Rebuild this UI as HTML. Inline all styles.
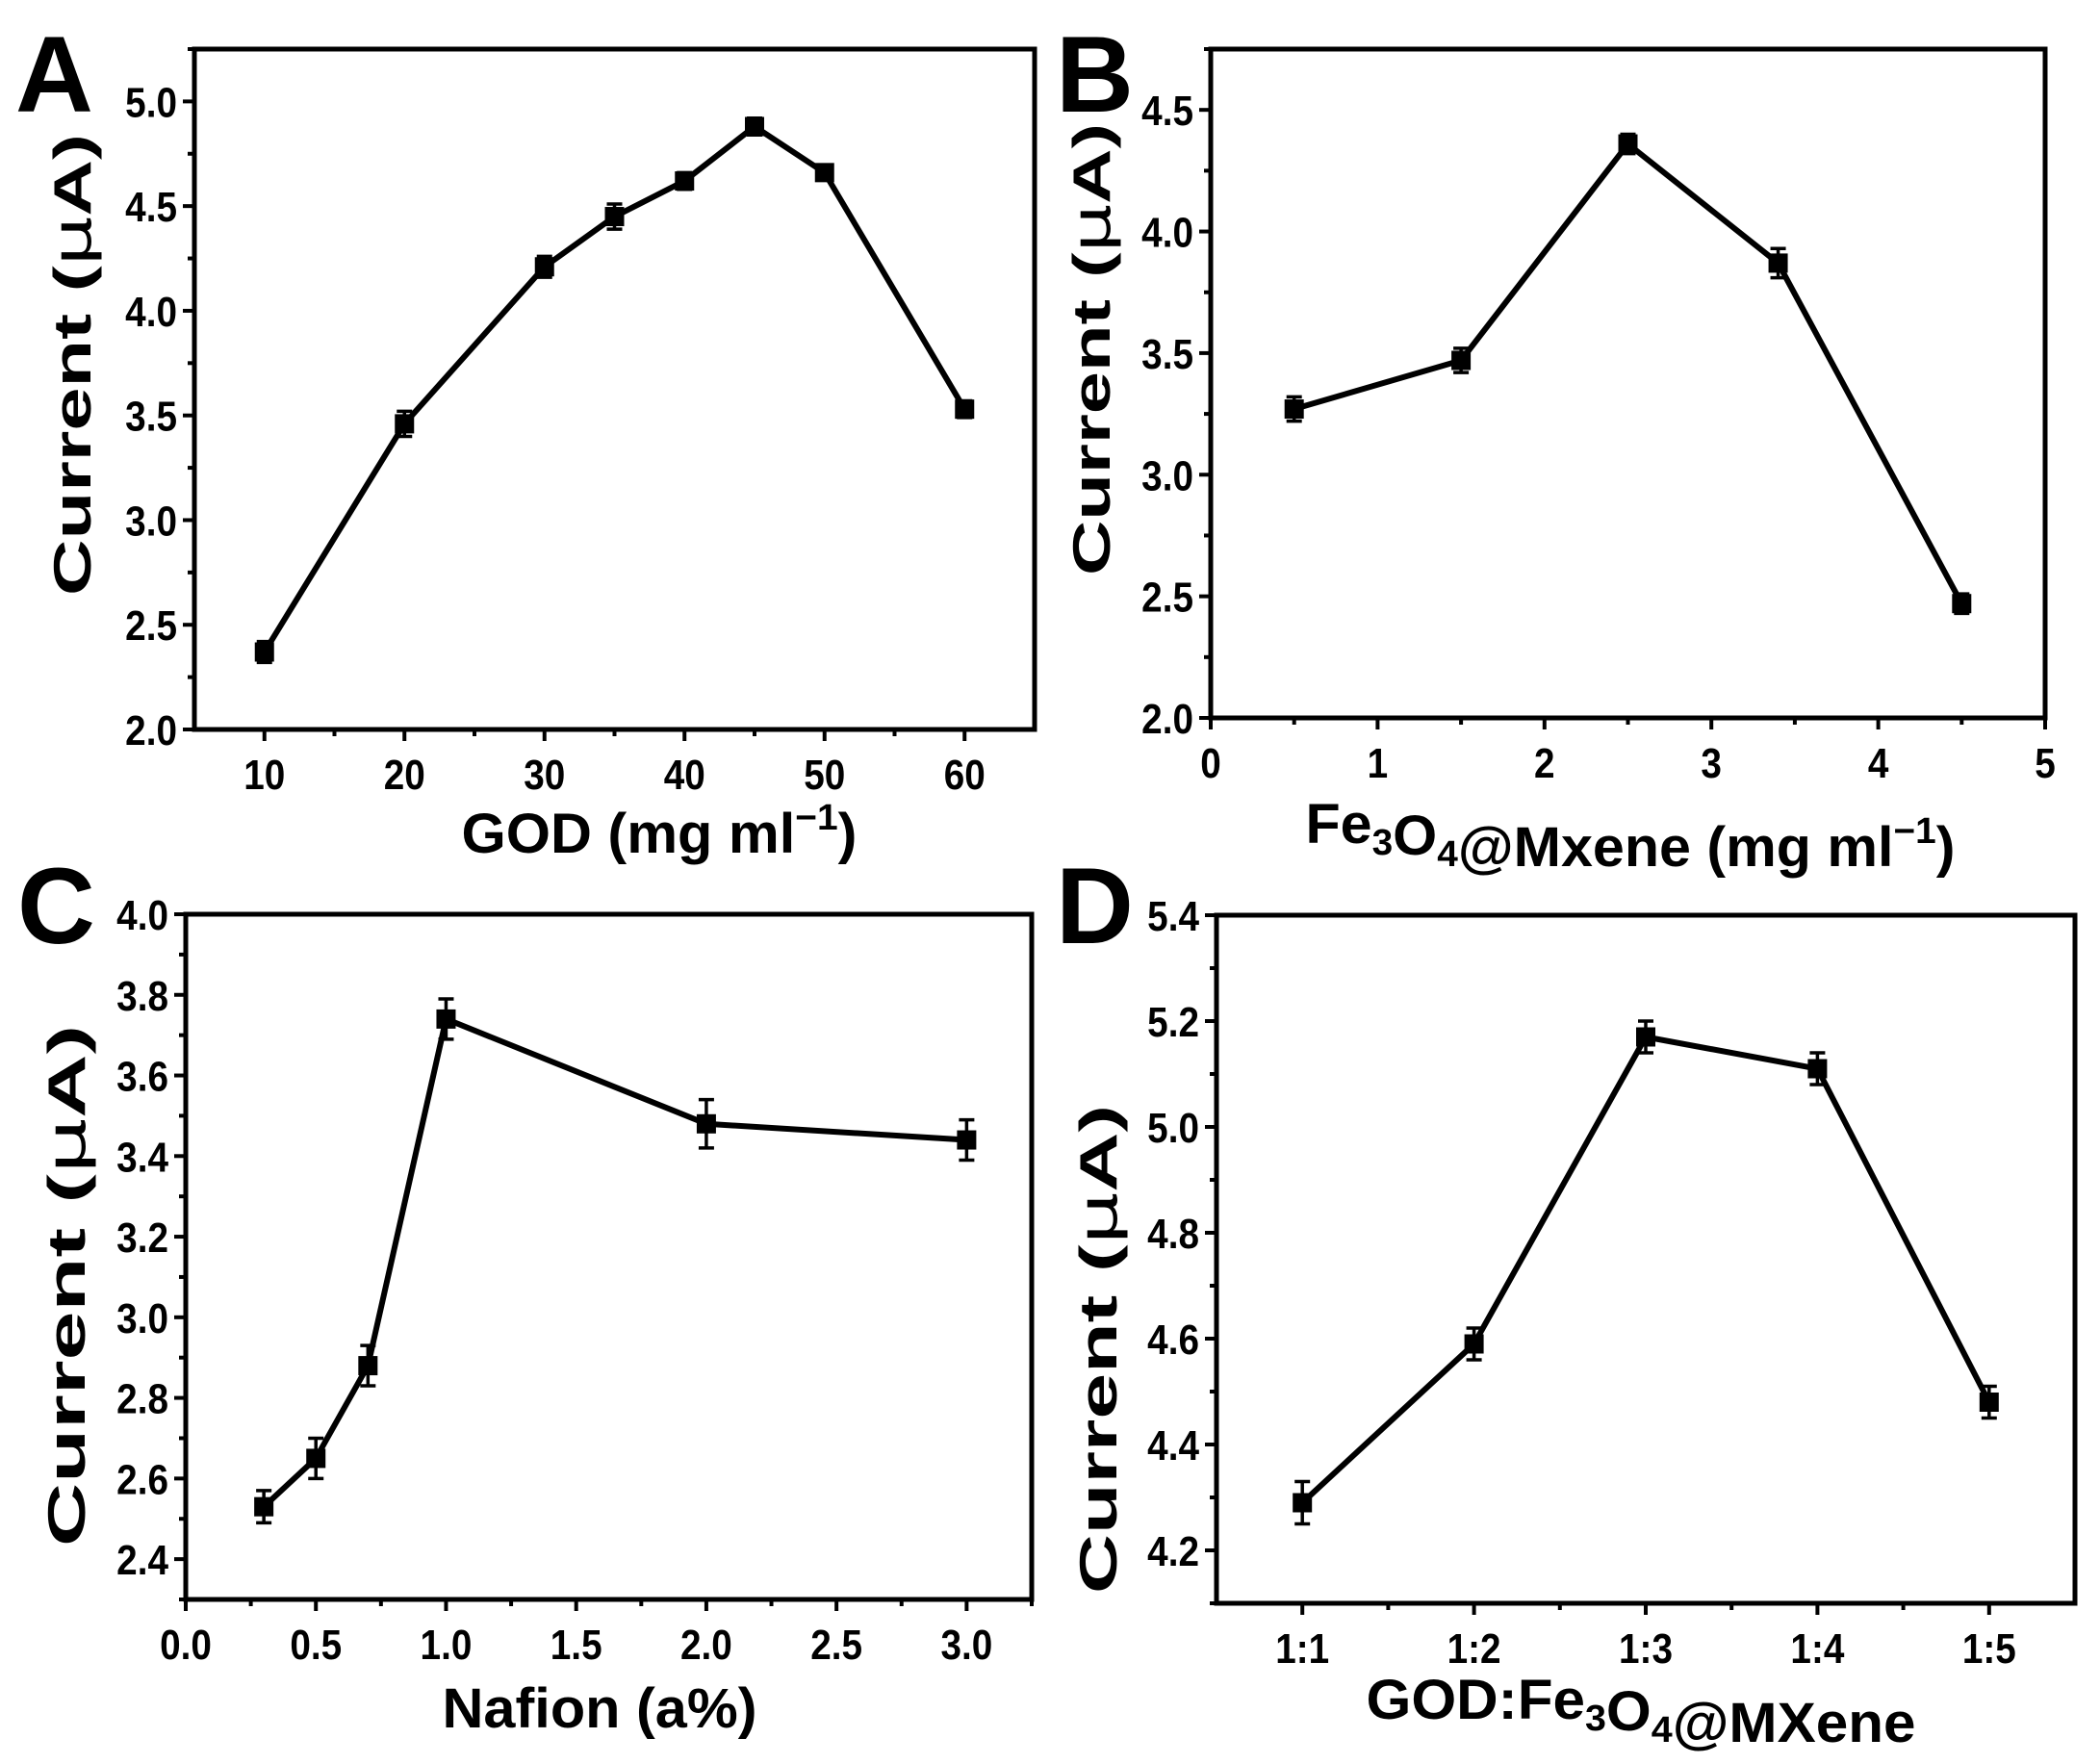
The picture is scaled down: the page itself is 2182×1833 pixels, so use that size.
<!DOCTYPE html>
<html><head><meta charset="utf-8">
<style>
html,body{margin:0;padding:0;background:#fff;}
svg{display:block;font-family:"Liberation Sans",Arial,sans-serif;font-weight:bold;}
</style></head>
<body>
<svg id="fig" width="2182" height="1833" viewBox="0 0 2182 1833" xmlns="http://www.w3.org/2000/svg"></svg>
<script>
// Panel A data
const aX = [10,20,30,35,40,45,50,60];
const aY = [2.37,3.46,4.21,4.45,4.62,4.88,4.66,3.53];
const aErr = [0.05,0.06,0.05,0.06,0.04,0.04,0.03,0.04];
const aXTicks = [10,20,30,40,50,60];
const aYTicks = [2.0,2.5,3.0,3.5,4.0,4.5,5.0];
// Panel B data
const bX = [0.5,1.5,2.5,3.4,4.5];
const bY = [3.27,3.47,4.36,3.87,2.47];
const bErr = [0.05,0.05,0.04,0.06,0.04];
const bXTicks = [0,1,2,3,4,5];
const bYTicks = [2.0,2.5,3.0,3.5,4.0,4.5];
// Panel C data
const cX = [0.3,0.5,0.7,1.0,2.0,3.0];
const cY = [2.53,2.65,2.88,3.74,3.48,3.44];
const cErr = [0.04,0.05,0.05,0.05,0.06,0.05];
const cXTicks = [0.0,0.5,1.0,1.5,2.0,2.5,3.0];
const cYTicks = [2.4,2.6,2.8,3.0,3.2,3.4,3.6,3.8,4.0];
// Panel D data
const dCats = ["1:1","1:2","1:3","1:4","1:5"];
const dY = [4.29,4.59,5.17,5.11,4.48];
const dErr = [0.04,0.03,0.03,0.03,0.03];
const dYTicks = [4.2,4.4,4.6,4.8,5.0,5.2,5.4];

const NS = "http://www.w3.org/2000/svg";
const svg = document.getElementById('fig');
function mk(tag, attrs, parent){
  const e = document.createElementNS(NS, tag);
  for (const k in attrs) e.setAttribute(k, attrs[k]);
  (parent||svg).appendChild(e);
  return e;
}

function panel(cfg){
  const g = mk('g', {});
  
  
  const L=cfg.box[0], T=cfg.box[1], R=cfg.box[2], B=cfg.box[3];
  const sx = v => L + (v - cfg.xr[0]) / (cfg.xr[1]-cfg.xr[0]) * (R-L);
  const sy = v => B - (v - cfg.yr[0]) / (cfg.yr[1]-cfg.yr[0]) * (B-T);

  const frame = mk('rect', {x:L, y:T, width:R-L, height:B-T, fill:'none', stroke:'#000', 'stroke-width':5}, g);
  
  

  cfg.xTicks.forEach((v,i) => {
    const x = sx(v);
    const t = mk('line', {x1:x, x2:x, y1:B, y2:B+12, stroke:'#000','stroke-width':4}, g);
    
    
    const lb = mk('text', {x:x, y:B+62, 'text-anchor':'middle', 'font-size':44, transform:`translate(${x},0) scale(0.88,1) translate(${-x},0)`}, g);
    lb.textContent = cfg.xLabels ? cfg.xLabels[i] : cfg.xFmt(v);
    
    
  });
  cfg.xMinor.forEach(v => {
    const x = sx(v);
    const t = mk('line', {x1:x, x2:x, y1:B, y2:B+7, stroke:'#000','stroke-width':4}, g);
    
    
  });
  cfg.yTicks.forEach(v => {
    const y = sy(v);
    const t = mk('line', {x1:L-12, x2:L, y1:y, y2:y, stroke:'#000','stroke-width':4}, g);
    
    
    const xl = L-18;
    const lb = mk('text', {x:xl, y:y+16, 'text-anchor':'end', 'font-size':44, transform:`translate(${xl},0) scale(0.88,1) translate(${-xl},0)`}, g);
    lb.textContent = v.toFixed(1);
    
    
  });
  cfg.yMinor.forEach(v => {
    const y = sy(v);
    const t = mk('line', {x1:L-7, x2:L, y1:y, y2:y, stroke:'#000','stroke-width':4}, g);
    
    
  });

  const pts = cfg.x.map((v,i) => sx(v)+','+sy(cfg.y[i])).join(' ');
  const pl = mk('polyline', {points:pts, fill:'none', stroke:'#000','stroke-width':6,'stroke-linejoin':'miter'}, g);
  
  
  cfg.x.forEach((v,i) => {
    const x = sx(v), y = sy(cfg.y[i]);
    const y1 = sy(cfg.y[i]+cfg.err[i]), y2 = sy(cfg.y[i]-cfg.err[i]);
    const eb = mk('path', {d:`M${x},${y1}V${y2}M${x-8},${y1}H${x+8}M${x-8},${y2}H${x+8}`, stroke:'#000','stroke-width':3.5, fill:'none'}, g);
    
    
    const m = mk('rect', {x:x-10, y:y-10, width:20, height:20, fill:'#000'}, g);
    
    
  });

  const pl2 = mk('text', {x:cfg.letter[0], y:cfg.letter[1], 'font-size':112}, g);
  pl2.textContent = cfg.id;
  
  

  const yt = mk('text', {x:0, y:0, 'text-anchor':'middle', 'font-size':55, textLength:cfg.yTitle[2], lengthAdjust:'spacingAndGlyphs', transform:`translate(${cfg.yTitle[0]},${cfg.yTitle[1]}) rotate(-90)`}, g);
  yt.innerHTML = 'Current (<tspan font-family="DejaVu Sans" font-weight="normal">μ</tspan>A)';
  
  

  const xt = mk('text', {x:cfg.xTitle[0], y:cfg.xTitle[1], 'text-anchor':'middle', 'font-size':58, textLength:cfg.xTitle[2], lengthAdjust:'spacingAndGlyphs'}, g);
  xt.innerHTML = cfg.xTitleText;
  
  
}

const sub = s => `<tspan font-size="38" dy="12">${s}</tspan><tspan dy="-12"></tspan>`;
const sup = `<tspan font-size="38" dy="-24">−1</tspan><tspan dy="24">)</tspan>`;

panel({id:'A', box:[202,51,1075,758], xr:[5,65], yr:[2.0,5.25],
  x:aX, y:aY, err:aErr, xTicks:aXTicks, xFmt:v=>String(v),
  xMinor:[15,25,35,45,55], yTicks:aYTicks, yMinor:[2.25,2.75,3.25,3.75,4.25,4.75,5.25],
  letter:[16,116], yTitle:[94,379,480], xTitle:[685,886,411], xTitleText:'GOD (mg ml'+sup});

panel({id:'B', box:[1258,51,2125,746], xr:[0,5], yr:[2.0,4.75],
  x:bX, y:bY, err:bErr, xTicks:bXTicks, xFmt:v=>String(v),
  xMinor:[0.5,1.5,2.5,3.5,4.5], yTicks:bYTicks, yMinor:[2.25,2.75,3.25,3.75,4.25,4.75],
  letter:[1097,116], yTitle:[1153,363,470], xTitle:[1694,876,675], xTitleText:'Fe'+sub('3')+'O'+sub('4')+'@Mxene (mg ml'+sup});

panel({id:'C', box:[193,950,1072,1662], xr:[0,3.25], yr:[2.3,4.0],
  x:cX, y:cY, err:cErr, xTicks:cXTicks, xFmt:v=>v.toFixed(1),
  xMinor:[0.25,0.75,1.25,1.75,2.25,2.75,3.25], yTicks:cYTicks, yMinor:[2.3,2.5,2.7,2.9,3.1,3.3,3.5,3.7,3.9],
  letter:[18,980], yTitle:[88,1336,542], xTitle:[623,1795,327], xTitleText:'Nafion (a%)'});

panel({id:'D', box:[1264,951,2156,1666], xr:[0.5,5.5], yr:[4.1,5.4],
  x:[1,2,3,4,5], y:dY, err:dErr, xTicks:[1,2,3,4,5], xLabels:dCats,
  xMinor:[1.5,2.5,3.5,4.5], yTicks:dYTicks, yMinor:[4.1,4.3,4.5,4.7,4.9,5.1,5.3],
  letter:[1097,980], yTitle:[1160,1402,508], xTitle:[1705,1786,571], xTitleText:'GOD:Fe'+sub('3')+'O'+sub('4')+'@MXene'});
</script>
</body></html>
